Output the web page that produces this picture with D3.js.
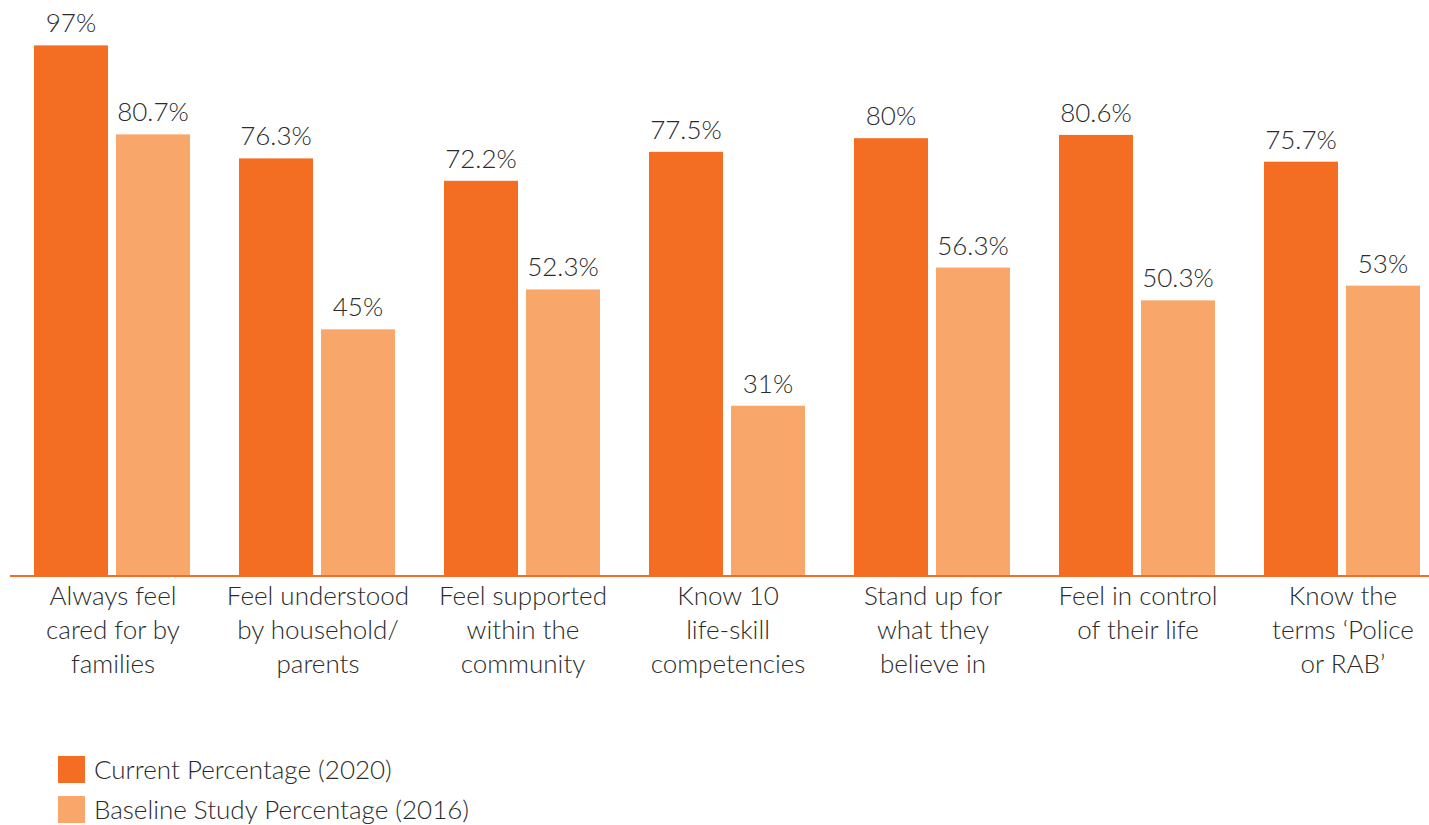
<!DOCTYPE html>
<html>
<head>
<meta charset="utf-8">
<script src="https://cdn.jsdelivr.net/npm/d3@7.9.0/dist/d3.min.js"></script>
<style>
  body { margin: 0; background: #fff; }
  svg text { font-family: Lato, "Open Sans", sans-serif; font-weight: 300; fill: #2b2b2b; }
</style>
</head>
<body>
<svg id="chart" width="1429" height="825"></svg>
<script>
// data
const categories = [
  ['Always feel', 'cared for by', 'families'],
  ['Feel understood', 'by household/', 'parents'],
  ['Feel supported', 'within the', 'community'],
  ['Know 10', 'life-skill', 'competencies'],
  ['Stand up for', 'what they', 'believe in'],
  ['Feel in control', 'of their life'],
  ['Know the', 'terms \u2018Police', 'or RAB\u2019']
];
const current2020 = [97, 76.3, 72.2, 77.5, 80, 80.6, 75.7];
const baseline2016 = [80.7, 45, 52.3, 31, 56.3, 50.3, 53];
const seriesNames = ['Current Percentage (2020)', 'Baseline Study Percentage (2016)'];
const seriesColors = ['#f36d23', '#f8a66a'];

const svg = d3.select('#chart');
const baseY = 575;

const x0 = d3.scaleBand()
  .domain(d3.range(categories.length))
  .range([9.5, 1444.5])
  .paddingInner(0.239)
  .paddingOuter(0.1195);

const x1 = d3.scaleBand()
  .domain([0, 1])
  .range([0, x0.bandwidth()])
  .paddingInner(0.0976);

const y = d3.scaleLinear().domain([0, 100]).range([baseY, 29]);

const rows = categories.map((c, i) => ({ i, values: [current2020[i], baseline2016[i]] }));

const groups = svg.selectAll('g.group')
  .data(rows)
  .enter()
  .append('g')
  .attr('class', 'group')
  .attr('transform', d => `translate(${x0(d.i)},0)`);

groups.selectAll('rect')
  .data(d => d.values.map((v, k) => ({ v, k })))
  .enter()
  .append('rect')
  .attr('x', d => x1(d.k))
  .attr('width', x1.bandwidth())
  .attr('y', d => y(d.v))
  .attr('height', d => baseY - y(d.v))
  .attr('fill', d => seriesColors[d.k]);

// value labels
groups.selectAll('text.val')
  .data(d => d.values.map((v, k) => ({ v, k })))
  .enter()
  .append('text')
  .attr('class', 'val')
  .attr('x', d => x1(d.k) + x1.bandwidth() / 2)
  .attr('y', d => y(d.v) - 13)
  .attr('text-anchor', 'middle')
  .style('font-size', '26px')
  .text(d => d.v + '%');

// axis line
svg.append('line')
  .attr('x1', 10).attr('x2', 1429)
  .attr('y1', baseY + 1).attr('y2', baseY + 1)
  .attr('stroke', '#f36d23')
  .attr('stroke-width', 2);

// category labels
categories.forEach((lines, i) => {
  const cx = x0(i) + x0.bandwidth() / 2 + 1;
  const t = svg.append('text')
    .attr('x', cx)
    .attr('y', 605)
    .attr('text-anchor', 'middle')
    .style('font-size', '26px');
  lines.forEach((ln, j) => {
    t.append('tspan')
      .attr('x', cx)
      .attr('y', 605 + j * 34)
      .text(ln);
  });
});

// legend
const legend = svg.append('g').attr('transform', 'translate(58,756)');
seriesNames.forEach((name, k) => {
  const row = legend.append('g').attr('transform', `translate(0,${k * 40})`);
  row.append('rect')
    .attr('width', 27).attr('height', 27)
    .attr('fill', seriesColors[k]);
  row.append('text')
    .attr('x', 36)
    .attr('y', 23)
    .style('font-size', '26px')
    .text(name);
});
</script>
</body>
</html>
